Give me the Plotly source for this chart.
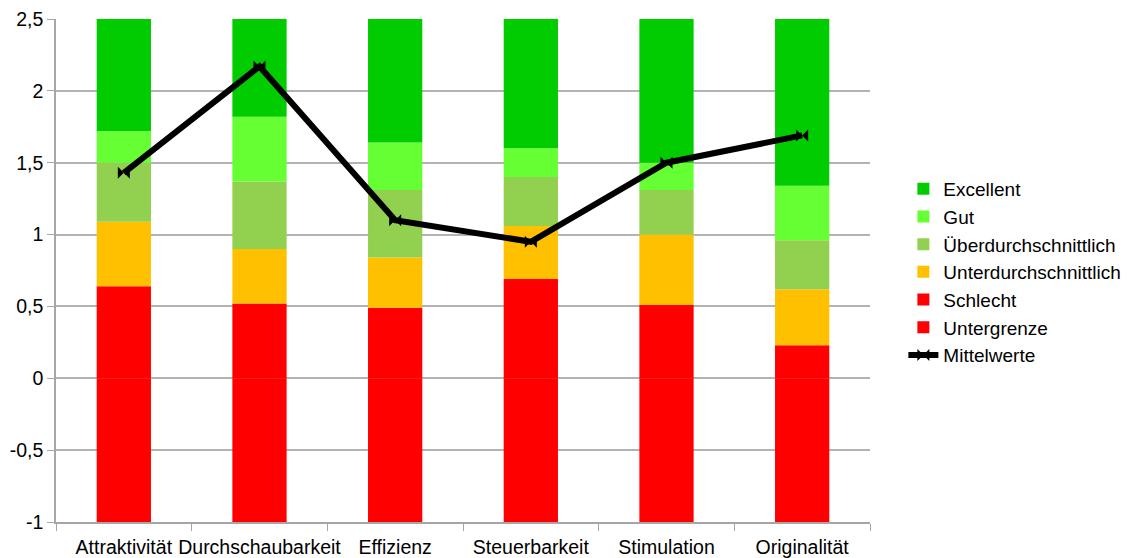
import plotly.graph_objects as go

categories = ["Attraktivität", "Durchschaubarkeit", "Effizienz", "Steuerbarkeit", "Stimulation", "Originalität"]

untergrenze = [-1, -1, -1, -1, -1, -1]
schlecht = [0.64, 0.52, 0.49, 0.69, 0.51, 0.23]
unterdurchschnittlich = [0.45, 0.38, 0.35, 0.37, 0.49, 0.39]
ueberdurchschnittlich = [0.41, 0.47, 0.47, 0.34, 0.31, 0.34]
gut = [0.22, 0.45, 0.33, 0.20, 0.19, 0.38]
excellent = [0.78, 0.68, 0.86, 0.90, 1.00, 1.16]
mittelwerte = [1.43, 2.17, 1.10, 0.95, 1.50, 1.69]

y_tickvals = [-1, -0.5, 0, 0.5, 1, 1.5, 2, 2.5]
y_ticktext = ["-1", "-0,5", "0", "0,5", "1", "1,5", "2", "2,5"]

FONT = "Liberation Sans, Arial, sans-serif"
FS = 19.5

fig = go.Figure()

series = [
    ("Untergrenze", untergrenze, "#FF0000", 6),
    ("Schlecht", schlecht, "#FF0000", 5),
    ("Unterdurchschnittlich", unterdurchschnittlich, "#FFC000", 4),
    ("Überdurchschnittlich", ueberdurchschnittlich, "#92D050", 3),
    ("Gut", gut, "#66FF33", 2),
    ("Excellent", excellent, "#00CC00", 1),
]
for name, vals, color, rank in series:
    fig.add_trace(go.Bar(
        x=categories, y=vals, name=name,
        marker=dict(color=color, line=dict(width=0)),
        legendrank=rank,
    ))

fig.add_trace(go.Scatter(
    x=categories, y=mittelwerte, name="Mittelwerte",
    mode="lines+markers",
    line=dict(color="black", width=6),
    marker=dict(symbol="bowtie", size=12, color="black"),
    legendrank=7,
))

fig.update_layout(
    width=1130, height=558,
    barmode="relative",
    bargap=0.6,
    plot_bgcolor="white",
    paper_bgcolor="white",
    margin=dict(l=56, r=260, t=19, b=36, autoexpand=False),
    font=dict(family=FONT, size=FS, color="black"),
    legend=dict(
        x=1.041, y=0.70, xanchor="left", yanchor="top",
        font=dict(family=FONT, size=19),
        bgcolor="rgba(0,0,0,0)",
    ),
    showlegend=True,
)

fig.update_xaxes(
    automargin=False,
    showgrid=False,
    showline=True, linecolor="#a6a6a6", linewidth=1.5,
    ticks="outside", tickson="boundaries", ticklen=7, tickcolor="#a6a6a6",
    tickangle=0, ticklabelstandoff=7,
    tickfont=dict(family=FONT, size=FS, color="black"),
)
fig.update_yaxes(
    automargin=False,
    range=[-1, 2.5],
    tickvals=y_tickvals, ticktext=y_ticktext,
    showgrid=True, gridcolor="#b3b3b3", gridwidth=1.5,
    showline=True, linecolor="#a6a6a6", linewidth=1.5,
    ticks="outside", ticklen=7, tickcolor="#a6a6a6",
    zeroline=False,
    tickfont=dict(family=FONT, size=FS, color="black"),
)

fig.write_html("out.html")
